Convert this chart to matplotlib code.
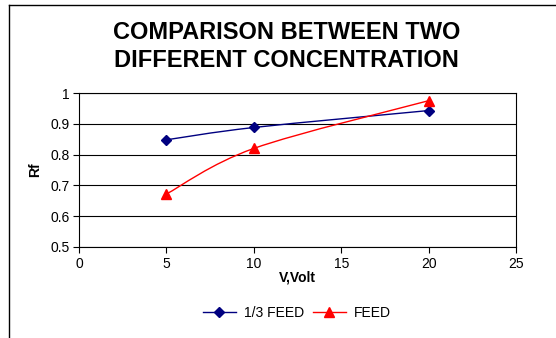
import matplotlib

matplotlib.use("Agg")
import matplotlib.pyplot as plt
import numpy as np
from matplotlib.lines import Line2D
from matplotlib.patches import PathPatch
from matplotlib.path import Path

volts = [5, 10, 20]
rf_third_feed = [0.848, 0.888, 0.943]
rf_feed = [0.672, 0.820, 0.975]
series_names = ["1/3 FEED", "FEED"]

plt.rcParams["font.family"] = ["Liberation Sans", "DejaVu Sans"]


def smooth_path(xs, ys):
    """Excel-like smoothed line: Catmull-Rom through the points as cubic Beziers."""
    p = np.column_stack([xs, ys]).astype(float)
    n = len(p)
    verts = [p[0]]
    codes = [Path.MOVETO]
    for i in range(n - 1):
        prev = p[max(i - 1, 0)]
        nxt = p[min(i + 2, n - 1)]
        c1 = p[i] + (p[i + 1] - prev) / 6.0
        c2 = p[i + 1] - (nxt - p[i]) / 6.0
        verts += [c1, c2, p[i + 1]]
        codes += [Path.CURVE4] * 3
    return Path(verts, codes)


fig = plt.figure(figsize=(5.56, 3.38), dpi=100)
ax = fig.add_axes([79 / 556, 91 / 338, 437 / 556, 154 / 338])

for ys, color, marker, ms in [(rf_third_feed, "#000080", "D", 5),
                              (rf_feed, "#ff0000", "^", 6.5)]:
    ax.add_patch(PathPatch(smooth_path(volts, ys), facecolor="none",
                           edgecolor=color, lw=1.0, zorder=3))
    ax.plot(volts, ys, linestyle="none", marker=marker, ms=ms, color=color,
            mec=color, zorder=4)

ax.set_xlim(0, 25)
ax.set_ylim(0.5, 1.0)
ax.set_xticks(np.arange(0, 26, 5))
ax.set_yticks(np.arange(0.5, 1.01, 0.1))
ax.set_yticklabels(["0.5", "0.6", "0.7", "0.8", "0.9", "1"])
ax.yaxis.grid(True, color="black", lw=0.8)
ax.set_axisbelow(True)
ax.tick_params(direction="out", length=4, width=0.8, labelsize=10, pad=3, colors="black")
for s in ax.spines.values():
    s.set_linewidth(0.8)
    s.set_color("black")

ax.set_xlabel("V,Volt", fontsize=10, fontweight="bold", labelpad=0)
ax.set_ylabel("Rf", fontsize=10, fontweight="bold", labelpad=6)

fig.text(0.515, 0.862, "COMPARISON BETWEEN TWO\nDIFFERENT CONCENTRATION",
         ha="center", va="center", fontsize=17, fontweight="bold", linespacing=1.25)

handles = [Line2D([], [], color="#000080", marker="D", ms=5, lw=1.0),
           Line2D([], [], color="#ff0000", marker="^", ms=6.5, lw=1.0)]
fig.legend(handles, series_names, loc="center", bbox_to_anchor=(0.534, 0.073),
           ncol=2, frameon=False, fontsize=10, handlelength=2.4,
           columnspacing=0.6, handletextpad=0.6)

# chart frame (only the left and top edges fall inside the picture)
fig.add_artist(Line2D([8.5 / 556, 8.5 / 556], [0, 1 - 4.5 / 338], color="black", lw=1.0))
fig.add_artist(Line2D([8.5 / 556, 1], [1 - 4.5 / 338, 1 - 4.5 / 338], color="black", lw=1.0))

fig.savefig("out.png", dpi=100)
